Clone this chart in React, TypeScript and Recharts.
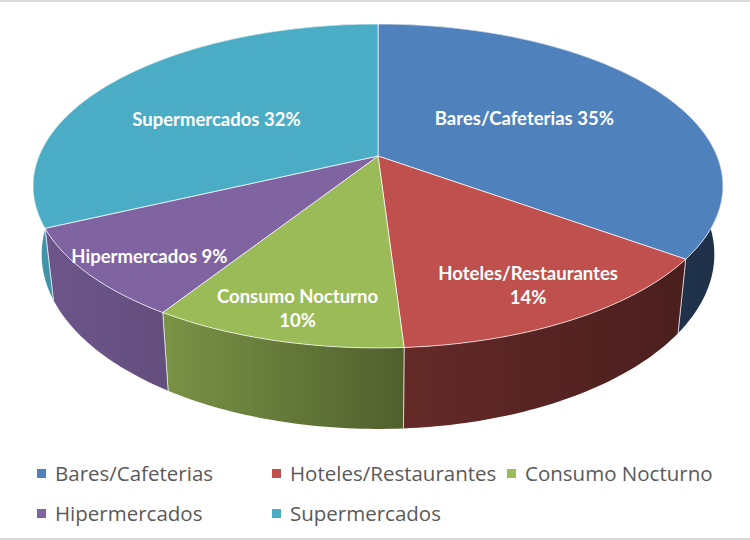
import { PieChart, Pie, Cell, Legend } from 'recharts';

const categories = ['Bares/Cafeterias', 'Hoteles/Restaurantes', 'Consumo Nocturno', 'Hipermercados', 'Supermercados'];
const shares = [35, 14, 10, 9, 32];
const colors = ['#4F81BD', '#C0504D', '#9BBB59', '#8064A2', '#4BACC6'];

const data = categories.map((name, i) => ({ name, value: shares[i] }));

// 3D look: squashed, slightly perspective-distorted disc with a side wall
const TILT = 0.4614;
const PERSP = 0.185;
const DEPTH = 66;
const BASE_SHRINK = 0.975;

// label placement (fraction of radius, vertical nudge, two lines or one)
const LABEL_T = [0.505, 0.8, 0.815, 0.81, 0.598];
const LABEL_DY = [-4, 3, 7, 7, 10];
const LABEL_WRAP = [false, true, true, false, false];

// wall shading along x (offset, brightness)
const SHADE = [
  [0, 0.86],
  [0.19, 0.78],
  [0.53, 0.52],
  [0.94, 0.39],
  [1, 0.38],
];

// alpha = degrees clockwise from 12 o'clock
const proj = (cx: number, cy: number, r: number, alpha: number, t = 1, drop = 0) => {
  const a = (alpha * Math.PI) / 180;
  const x = t * Math.sin(a);
  const z = t * Math.cos(a);
  const w = 1 + PERSP * z;
  const k = drop ? BASE_SHRINK : 1;
  return [cx + (r * k * x) / w, cy - (r * TILT * z) / w + drop / w];
};

const arc = (cx: number, cy: number, r: number, a0: number, a1: number, drop: number) => {
  const n = Math.max(2, Math.ceil(Math.abs(a1 - a0)));
  const pts: number[][] = [];
  for (let i = 0; i <= n; i++) pts.push(proj(cx, cy, r, a0 + ((a1 - a0) * i) / n, 1, drop));
  return pts;
};

const toPath = (pts: number[][]) => 'M' + pts.map((p) => `${p[0].toFixed(2)},${p[1].toFixed(2)}`).join('L') + 'Z';

const shade = (hex: string, f: number) => {
  const n = parseInt(hex.slice(1), 16);
  const c = [(n >> 16) & 255, (n >> 8) & 255, n & 255].map((v) => Math.round(v * f));
  return `rgb(${c.join(',')})`;
};

const Wall = (props: any) => {
  const { cx, cy, outerRadius, startAngle, endAngle, fill, name } = props;
  const a0 = 90 - startAngle;
  const a1 = 90 - endAngle;
  const top = arc(cx, cy, outerRadius, a0, a1, 0);
  const bottom = arc(cx, cy, outerRadius, a1, a0, DEPTH);
  const id = `wall-${categories.indexOf(name)}`;
  const edges = [a0, a1].map((a) => [proj(cx, cy, outerRadius, a), proj(cx, cy, outerRadius, a, 1, DEPTH)]);
  return (
    <g>
      <defs>
        <linearGradient id={id} gradientUnits="userSpaceOnUse" x1={cx - outerRadius} x2={cx + outerRadius} y1={0} y2={0}>
          {SHADE.map(([o, f]) => (
            <stop key={o} offset={o} stopColor={shade(fill, f)} />
          ))}
        </linearGradient>
      </defs>
      <path d={toPath([...top, ...bottom])} fill={`url(#${id})`} />
      {edges.map(([p, q], k) => (
        <line key={k} x1={p[0]} y1={p[1]} x2={q[0]} y2={q[1]} stroke="#fff" strokeOpacity={0.6} strokeWidth={1} />
      ))}
    </g>
  );
};

const Top = (props: any) => {
  const { cx, cy, outerRadius, startAngle, endAngle, fill } = props;
  const pts = [[cx, cy], ...arc(cx, cy, outerRadius, 90 - startAngle, 90 - endAngle, 0)];
  return <path d={toPath(pts)} fill={fill} stroke="#fff" strokeOpacity={0.7} strokeWidth={1} strokeLinejoin="round" />;
};

const renderLabel = (props: any) => {
  const { cx, cy, outerRadius, midAngle, percent, name } = props;
  const i = categories.indexOf(name);
  const [x, y] = proj(cx, cy, outerRadius, 90 - midAngle, LABEL_T[i]);
  const pct = `${Math.round(percent * 100)}%`;
  const lines = LABEL_WRAP[i] ? [name, pct] : [`${name} ${pct}`];
  return (
    <text
      x={x}
      y={y + LABEL_DY[i] - (lines.length - 1) * 12}
      textAnchor="middle"
      dominantBaseline="central"
      fill="#fff"
      fontSize={18.5}
      fontWeight={700}
      fontFamily="Lato"
    >
      {lines.map((l, k) => (
        <tspan key={k} x={x} dy={k === 0 ? 0 : 24}>
          {l}
        </tspan>
      ))}
    </text>
  );
};

// both pies feed the legend, keep one entry per category in data order
const renderLegend = ({ payload }: any) => {
  const items = categories
    .map((name) => (payload || []).find((p: any) => p.value === name))
    .filter(Boolean);
  return (
    <div style={{ display: 'flex', flexWrap: 'wrap', paddingLeft: 37, width: 713 }}>
      {items.map((item: any) => (
        <div key={item.value} style={{ width: 235, height: 40, display: 'flex', alignItems: 'center' }}>
          <span style={{ width: 9, height: 9, background: item.color, marginRight: 9, flexShrink: 0 }} />
          <span style={{ fontSize: 20.5, color: '#595959', fontFamily: 'Open Sans', whiteSpace: 'nowrap' }}>
            {item.value}
          </span>
        </div>
      ))}
    </div>
  );
};

export default function App() {
  return (
    <div style={{ position: 'absolute', left: 0, top: 0, width: 750, height: 540, background: '#fff' }}>
      <PieChart width={750} height={540} margin={{ top: 0, right: 0, bottom: 0, left: 0 }}>
        <Pie
          data={data}
          dataKey="value"
          nameKey="name"
          cx={378}
          cy={156}
          outerRadius={339}
          startAngle={90}
          endAngle={-270}
          stroke="none"
          legendType="none"
          shape={Wall}
          isAnimationActive={false}
        >
          {data.map((d, i) => (
            <Cell key={d.name} fill={colors[i]} />
          ))}
        </Pie>
        <Pie
          data={data}
          dataKey="value"
          nameKey="name"
          cx={378}
          cy={156}
          outerRadius={339}
          startAngle={90}
          endAngle={-270}
          stroke="none"
          shape={Top}
          label={renderLabel}
          labelLine={false}
          isAnimationActive={false}
        >
          {data.map((d, i) => (
            <Cell key={d.name} fill={colors[i]} />
          ))}
        </Pie>
        <Legend verticalAlign="bottom" content={renderLegend} wrapperStyle={{ left: 0, bottom: 7, width: 750 }} />
      </PieChart>
      <div style={{ position: 'absolute', left: 0, top: 0, width: 750, height: 2, background: '#D9D9D9' }} />
      <div style={{ position: 'absolute', left: 0, bottom: 0, width: 750, height: 2, background: '#D9D9D9' }} />
    </div>
  );
}
